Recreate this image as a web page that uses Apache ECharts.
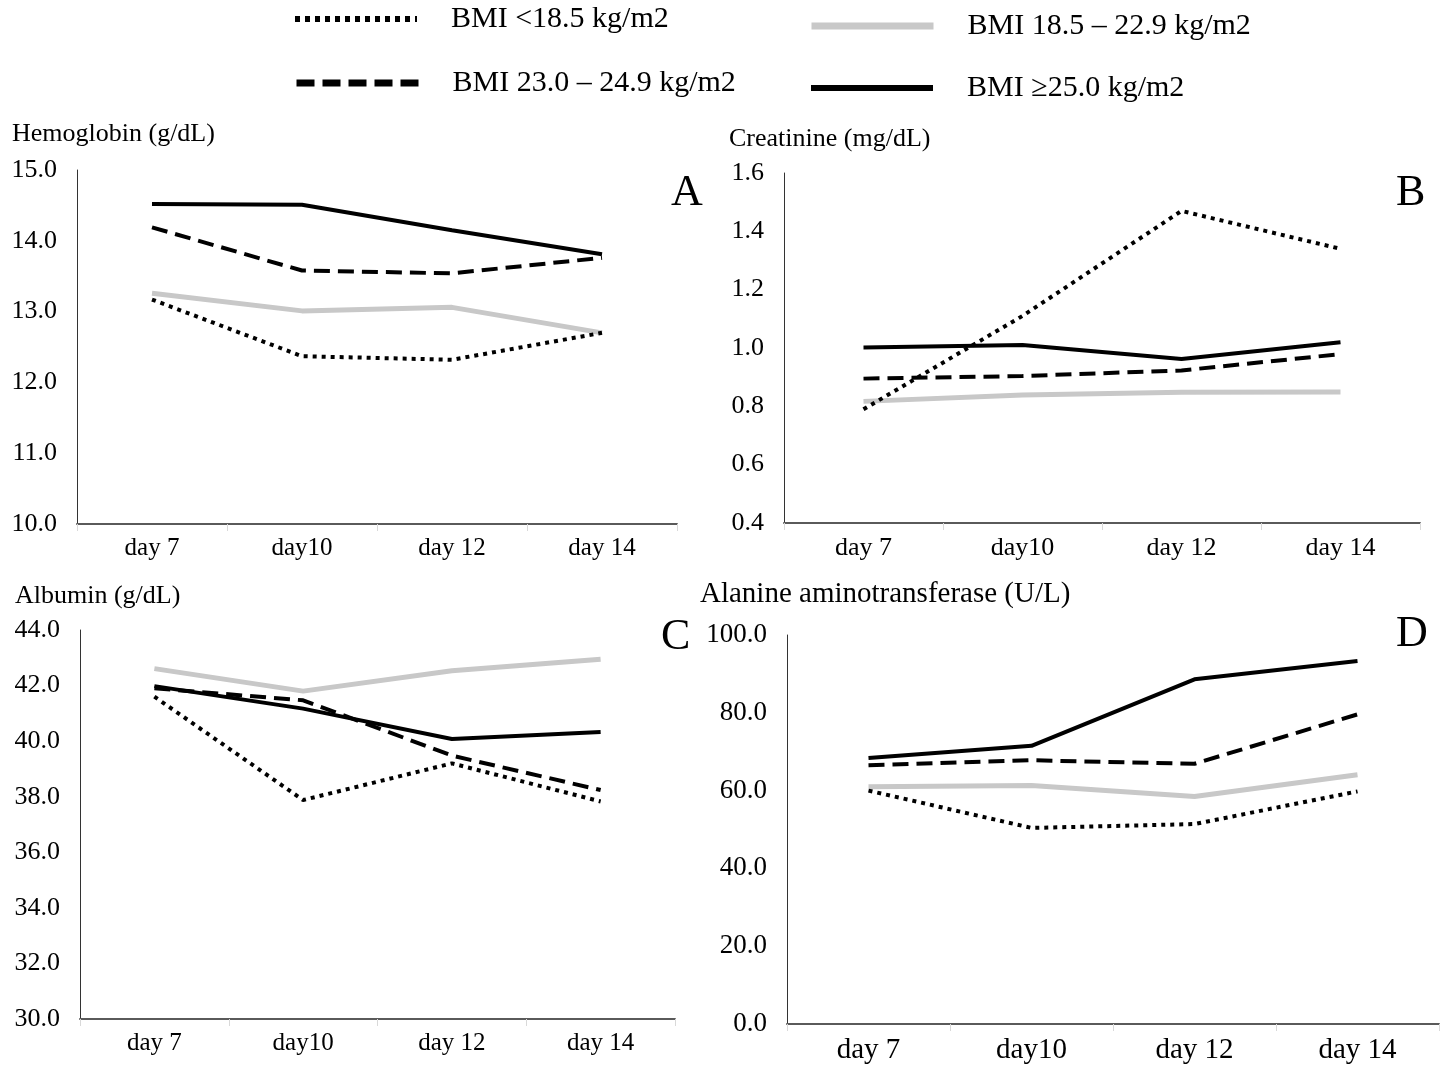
<!DOCTYPE html>
<html>
<head>
<meta charset="utf-8">
<title>BMI lab trends</title>
<script src="https://cdn.jsdelivr.net/npm/echarts@6/dist/echarts.min.js"></script>
<style>
  html, body { margin: 0; padding: 0; background: #fff; }
  #main { width: 1441px; height: 1065px; }
</style>
</head>
<body>
<div id="main"></div>
<script>
// categories
var days = ['day 7', 'day10', 'day 12', 'day 14'];
var groups = ['BMI <18.5 kg/m2', 'BMI 18.5 \u2013 22.9 kg/m2', 'BMI 23.0 \u2013 24.9 kg/m2', 'BMI \u226525.0 kg/m2'];

// A - Hemoglobin (g/dL)
var hgbUnder  = [13.17, 12.37, 12.32, 12.70];
var hgbNormal = [13.26, 13.01, 13.06, 12.70];
var hgbOver   = [14.19, 13.58, 13.54, 13.76];
var hgbObese  = [14.52, 14.51, 14.15, 13.81];

// B - Creatinine (mg/dL)
var crUnder  = [0.79, 1.11, 1.47, 1.34];
var crNormal = [0.817, 0.839, 0.848, 0.849];
var crOver   = [0.895, 0.904, 0.923, 0.979];
var crObese  = [1.002, 1.01, 0.962, 1.02];

// C - Albumin (g/dL)
var albUnder  = [41.6, 37.88, 39.2, 37.83];
var albNormal = [42.61, 41.8, 42.53, 42.95];
var albOver   = [41.9, 41.47, 39.48, 38.24];
var albObese  = [41.98, 41.17, 40.08, 40.33];

// D - Alanine aminotransferase (U/L)
var altUnder  = [60.0, 50.4, 51.4, 59.8];
var altNormal = [61.0, 61.3, 58.5, 64.1];
var altOver   = [66.5, 67.8, 66.9, 79.6];
var altObese  = [68.4, 71.5, 88.6, 93.3];

var serif = "'Liberation Serif', 'Times New Roman', serif";

// line look per BMI group
var lineStyles = [
  {color: '#000', width: 4, type: [4, 5]},
  {color: '#c8c8c8', width: 5, type: 'solid'},
  {color: '#000', width: 4, type: [16, 8]},
  {color: '#000', width: 4, type: 'solid'}
];

var panels = [
  {name: 'Hemoglobin (g/dL)', letter: 'A', data: [hgbUnder, hgbNormal, hgbOver, hgbObese],
   grid: {left: 77, top: 170, width: 600, height: 354}, min: 10, max: 15, interval: 1, yFont: 26, xFont: 25,
   title: {left: 12, top: 121, size: 26}, letterPos: {left: 671, top: 171}},
  {name: 'Creatinine (mg/dL)', letter: 'B', data: [crUnder, crNormal, crOver, crObese],
   grid: {left: 784, top: 173, width: 636, height: 350}, min: 0.4, max: 1.6, interval: 0.2, yFont: 26, xFont: 26,
   title: {left: 729, top: 126, size: 26}, letterPos: {left: 1396, top: 171}},
  {name: 'Albumin (g/dL)', letter: 'C', data: [albUnder, albNormal, albOver, albObese],
   grid: {left: 80, top: 630, width: 595, height: 389}, min: 30, max: 44, interval: 2, yFont: 26, xFont: 25,
   title: {left: 15, top: 583, size: 26}, letterPos: {left: 661, top: 615}},
  {name: 'Alanine aminotransferase (U/L)', letter: 'D', data: [altUnder, altNormal, altOver, altObese],
   grid: {left: 787, top: 635, width: 652, height: 389}, min: 0, max: 100, interval: 20, yFont: 27, xFont: 29,
   title: {left: 700, top: 580, size: 29}, letterPos: {left: 1396, top: 612}}
];

var grids = [], xAxes = [], yAxes = [], titles = [], series = [];
panels.forEach(function(p, i) {
  grids.push(p.grid);
  xAxes.push({
    type: 'category', gridIndex: i, data: days, boundaryGap: true,
    axisLine: {lineStyle: {color: '#5a5a5a', width: 2}},
    axisTick: {show: true, length: 7, lineStyle: {color: '#d9d9d9'}},
    axisLabel: {color: '#000', fontFamily: serif, fontSize: p.xFont, margin: 12},
    splitLine: {show: false}
  });
  yAxes.push({
    type: 'value', gridIndex: i, min: p.min, max: p.max, interval: p.interval,
    axisLine: {show: true, lineStyle: {color: '#333', width: 1}},
    axisTick: {show: false},
    splitLine: {show: false},
    axisLabel: {color: '#000', fontFamily: serif, fontSize: p.yFont, margin: 20,
      formatter: function(v) { return v.toFixed(1); }}
  });
  titles.push({text: p.name, left: p.title.left, top: p.title.top, padding: 0,
    textStyle: {fontFamily: serif, fontSize: p.title.size, fontWeight: 'normal', color: '#000'}});
  titles.push({text: p.letter, left: p.letterPos.left, top: p.letterPos.top, padding: 0,
    textStyle: {fontFamily: serif, fontSize: 44, fontWeight: 'normal', color: '#000'}});
  for (var g = 0; g < 4; g++) {
    series.push({
      name: groups[g], type: 'line', xAxisIndex: i, yAxisIndex: i,
      data: p.data[g], symbol: 'none', smooth: false,
      z: g == 1 ? 1 : 2 + g,
      lineStyle: lineStyles[g]
    });
  }
});

// one legend block per group, laid out in two rows like the figure
function legendBlock(name, left, top, ls) {
  return {
    data: [name], left: left, top: top, orient: 'horizontal',
    itemWidth: 122, itemHeight: 14, padding: 0, selectedMode: true,
    lineStyle: ls, itemStyle: {opacity: 0},
    textStyle: {fontFamily: serif, fontSize: 30, color: '#000', padding: [0, 0, 0, 29]}
  };
}

var option = {
  backgroundColor: '#fff',
  animation: false,
  title: titles,
  legend: [
    legendBlock(groups[0], 292, 4, {width: 6, type: [5, 5], color: '#000'}),
    legendBlock(groups[1], 808, 11, {width: 7, type: 'solid', color: '#c8c8c8'}),
    legendBlock(groups[2], 293, 68, {width: 7, type: [18, 8], color: '#000'}),
    legendBlock(groups[3], 808, 73, {width: 6, type: 'solid', color: '#000'})
  ],
  grid: grids,
  xAxis: xAxes,
  yAxis: yAxes,
  series: series
};

var chart = echarts.init(document.getElementById('main'), null, {renderer: 'canvas'});
chart.setOption(option);
</script>
</body>
</html>
